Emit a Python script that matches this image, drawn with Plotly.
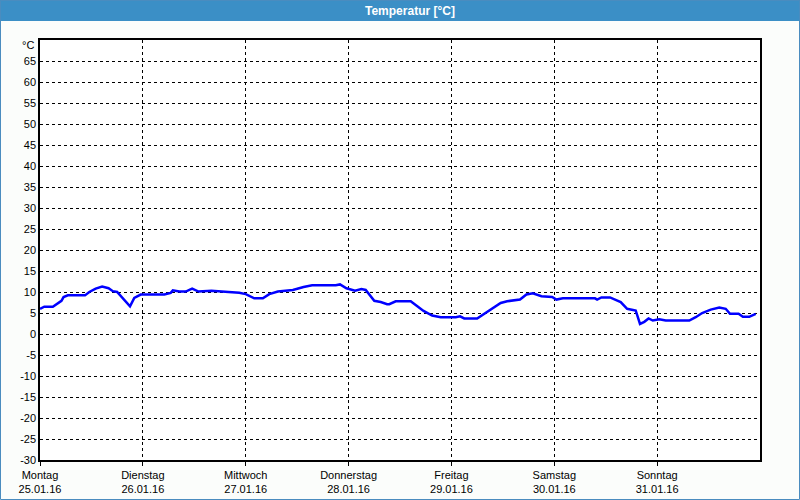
import pandas as pd
import plotly.graph_objects as go

# hours since Monday 25.01.16 00:00
hours = [0, 1, 3, 4, 5, 5.5, 6.5, 10.5, 11.5, 13, 14.5, 16, 17, 18, 21, 22, 23.5,
         29, 30.5, 31, 32.5, 34, 35.5, 37, 40, 44, 46.5, 48, 50, 52, 53.5, 55.5,
         59, 61.5, 63.5, 69, 70, 71.5, 73.5, 75, 76, 78, 79.5, 81, 81.5, 83, 86.5,
         89.5, 91.5, 93.5, 97, 98, 99, 102, 104, 106, 107.5, 109, 112, 113.5, 115,
         117, 119.5, 120.5, 122, 129.5, 130, 131, 133, 135.5, 137, 139, 140, 141,
         142, 143, 144.5, 146, 151.5, 153, 154.5, 156.5, 158.5, 160, 161, 163, 164,
         165.5, 166.5, 167]
temps = [6.0, 6.5, 6.5, 7.1, 7.9, 8.8, 9.2, 9.2, 10.0, 10.8, 11.3, 10.9, 10.2, 10.0, 6.6, 8.6, 9.4,
         9.4, 9.8, 10.4, 10.1, 10.1, 10.8, 10.1, 10.3, 10.0, 9.8, 9.5, 8.5, 8.5, 9.5, 10.1,
         10.5, 11.2, 11.6, 11.6, 11.8, 10.9, 10.3, 10.7, 10.5, 7.9, 7.6, 7.1, 7.1, 7.8, 7.8,
         5.5, 4.4, 4.0, 4.0, 4.2, 3.7, 3.7, 5.0, 6.3, 7.4, 7.8, 8.2, 9.4, 9.7,
         9.0, 8.8, 8.2, 8.5, 8.5, 8.2, 8.7, 8.7, 7.6, 6.0, 5.6, 2.4, 2.9,
         3.7, 3.2, 3.5, 3.2, 3.2, 4.0, 5.0, 5.8, 6.3, 6.0, 4.8, 4.8, 4.1,
         4.1, 4.6, 4.8]

days = ["Montag", "Dienstag", "Mittwoch", "Donnerstag", "Freitag", "Samstag", "Sonntag"]
dates = ["25.01.16", "26.01.16", "27.01.16", "28.01.16", "29.01.16", "30.01.16", "31.01.16"]
y_ticks = list(range(-30, 70, 5))

start = pd.Timestamp("2016-01-25 00:00")
times = [start + pd.Timedelta(hours=h) for h in hours]
day_vals = [start + pd.Timedelta(days=i) for i in range(len(days))]

BLUE = "#3b8fc6"
FONT = "Liberation Sans"

fig = go.Figure()
fig.add_trace(go.Scatter(x=times, y=temps, mode="lines",
                         line=dict(color="#0000ff", width=2.5), hoverinfo="skip"))

L, R, T, B = 40, 40, 40, 47
W, H = 800, 507
pw, ph = W - L - R, H - T - B

fig.update_layout(
    width=W, height=H,
    margin=dict(l=L, r=R, t=T, b=B, pad=0),
    paper_bgcolor="#fbfdfb", plot_bgcolor="#ffffff",
    showlegend=False,
    font=dict(family=FONT, size=11, color="#000000"),
    xaxis=dict(
        range=[start, start + pd.Timedelta(days=7)],
        tickvals=day_vals,
        ticktext=[f"{d}<br>{t}" for d, t in zip(days, dates)],
        showgrid=True, gridcolor="#000000", griddash="3px,3px", gridwidth=1,
        showline=True, linecolor="#000000", linewidth=1.5, mirror=True,
        ticks="outside", ticklen=4, tickcolor="#000000",
        zeroline=False, fixedrange=True,
        tickfont=dict(family=FONT, size=11, color="#000000"),
    ),
    yaxis=dict(
        range=[-30, 70],
        tickvals=y_ticks,
        ticktext=[str(v) for v in y_ticks],
        showgrid=True, gridcolor="#000000", griddash="3px,3px", gridwidth=1,
        showline=True, linecolor="#000000", linewidth=1.5, mirror=True,
        ticks="", zeroline=False, fixedrange=True,
        tickfont=dict(family=FONT, size=11, color="#000000"),
    ),
    shapes=[
        dict(type="rect", xref="paper", yref="paper",
             x0=-L / pw, x1=1 + R / pw, y0=1 + (T - 21) / ph, y1=1 + T / ph,
             fillcolor=BLUE, line=dict(width=0), layer="below"),
        dict(type="rect", xref="paper", yref="paper",
             x0=-(L - 0.5) / pw, x1=1 + (R - 0.5) / pw,
             y0=-(B - 7.5) / ph, y1=1 + (T - 0.5) / ph,
             fillcolor="rgba(0,0,0,0)", line=dict(color="#4a8cbf", width=1)),
    ],
    annotations=[
        dict(text="<b>Temperatur [°C]</b>", xref="paper", yref="paper",
             x=(410 - L) / pw, y=1 + (T - 10.5) / ph, xanchor="center", yanchor="middle",
             showarrow=False, font=dict(family=FONT, size=12, color="#ffffff")),
        dict(text="°C", xref="paper", yref="paper",
             x=-4 / pw, y=1 - 5 / ph, xanchor="right", yanchor="middle",
             showarrow=False, font=dict(family=FONT, size=11, color="#000000")),
    ],
)

fig.write_html("out.html")
